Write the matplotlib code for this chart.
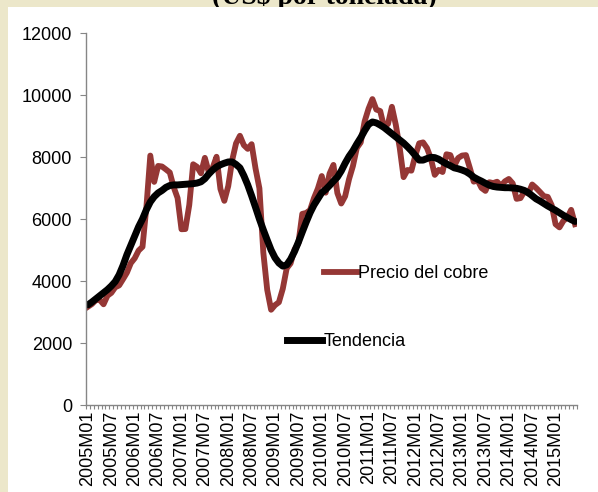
import matplotlib
matplotlib.use("Agg")
import matplotlib.pyplot as plt
from matplotlib.lines import Line2D
from matplotlib.patches import Rectangle

plt.rcParams['font.family'] = ['Liberation Sans', 'DejaVu Sans']

# monthly labels 2005M01 .. 2015M06
months = ['%dM%02d' % (y, m) for y in range(2005, 2016) for m in range(1, 13)][:126]

# copper price (US$ per ton)
precio = [3170, 3254, 3379, 3394, 3249, 3525, 3617, 3797, 3857, 4059, 4269, 4576,
          4734, 4982, 5103, 6387, 8046, 7197, 7712, 7694, 7600, 7500, 7029, 6676,
          5669, 5676, 6452, 7766, 7683, 7475, 7973, 7510, 7652, 8008, 6967, 6586,
          7061, 7888, 8439, 8685, 8383, 8262, 8414, 7633, 6990, 4924, 3717, 3072,
          3221, 3315, 3750, 4407, 4569, 5014, 5216, 6165, 6196, 6288, 6676, 6982,
          7386, 6848, 7463, 7745, 6838, 6499, 6735, 7284, 7709, 8292, 8470, 9147,
          9556, 9868, 9530, 9483, 8960, 9067, 9620, 9040, 8300, 7350, 7581, 7559,
          8041, 8441, 8471, 8289, 7955, 7423, 7584, 7516, 8088, 8062, 7711, 7967,
          8047, 8061, 7646, 7204, 7248, 7000, 6907, 7186, 7159, 7203, 7071, 7215,
          7291, 7149, 6650, 6674, 6891, 6821, 7113, 7002, 6872, 6737, 6713, 6446,
          5831, 5729, 5940, 6042, 6295, 5833]

# trend
tendencia = [3230, 3320, 3420, 3520, 3620, 3720, 3840, 3980, 4200, 4500, 4850, 5150,
             5450, 5750, 6000, 6300, 6550, 6720, 6840, 6920, 7020, 7080, 7100, 7100,
             7110, 7120, 7130, 7140, 7160, 7200, 7300, 7450, 7580, 7680, 7750, 7800,
             7840, 7840, 7760, 7650, 7400, 7100, 6750, 6380, 6000, 5650, 5320, 5000,
             4750, 4580, 4480, 4520, 4700, 4950, 5250, 5580, 5900, 6200, 6450, 6650,
             6850, 6950, 7080, 7220, 7350, 7550, 7800, 8020, 8200, 8420, 8620, 8850,
             9050, 9130, 9100, 9030, 8950, 8850, 8750, 8650, 8550, 8450, 8330, 8200,
             8050, 7900, 7900, 7950, 7990, 7980, 7930, 7850, 7780, 7720, 7650, 7620,
             7580, 7530, 7450, 7350, 7280, 7220, 7150, 7090, 7050, 7030, 7020, 7010,
             7010, 7000, 6990, 6960, 6920, 6850, 6750, 6650, 6580, 6500, 6420, 6350,
             6280, 6200, 6120, 6050, 5980, 5920]

W, H = 598, 492
fig = plt.figure(figsize=(W / 100, H / 100), dpi=100)
fig.patch.set_facecolor('#ECE7CA')
fig.patches.append(Rectangle((8 / W, 0), 1, 1 - 7 / H, transform=fig.transFigure,
                             facecolor='white', edgecolor='none', zorder=1))
fig.text(324 / W, 1 - 4 / H, '(US$ por tonelada)', ha='center', va='baseline',
         fontsize=20, fontweight='bold', family='Liberation Serif', zorder=0)

ax = fig.add_axes([86 / W, 1 - 405 / H, (577 - 86) / W, (405 - 33) / H])
ax.set_zorder(2)
ax.set_facecolor('none')
x = list(range(len(months)))
ax.plot(x, precio, color='#953735', linewidth=4.2, solid_joinstyle='round')
ax.plot(x, tendencia, color='black', linewidth=5, solid_capstyle='round')

ax.set_xlim(-0.5, len(months) - 0.5)
ax.set_ylim(0, 12000)
ax.set_yticks(range(0, 12001, 2000))
ax.set_xticks(x[::6])
ax.set_xticklabels(months[::6], rotation=90)
ax.set_xticks([i - 0.5 for i in range(len(months) + 1)], minor=True)

for s in ['top', 'right']:
    ax.spines[s].set_visible(False)
for s in ['left', 'bottom']:
    ax.spines[s].set_color('#868686')
    ax.spines[s].set_linewidth(1)
ax.tick_params(axis='y', length=4, color='#868686', labelsize=13, pad=6)
ax.tick_params(axis='x', which='major', length=0, labelsize=13, pad=4)
ax.tick_params(axis='x', which='minor', length=3, color='#868686', width=0.8)

leg1 = ax.legend([Line2D([], [], color='#953735', linewidth=4.2)], ['Precio del cobre'],
                 loc='center left', bbox_to_anchor=(324 / W, 1 - 274 / H),
                 bbox_transform=fig.transFigure, frameon=False, fontsize=13,
                 borderpad=0, borderaxespad=0, handlelength=1.8, handletextpad=0.1)
ax.add_artist(leg1)
ax.legend([Line2D([], [], color='black', linewidth=5)], ['Tendencia'],
          loc='center left', bbox_to_anchor=(287 / W, 1 - 342 / H),
          bbox_transform=fig.transFigure, frameon=False, fontsize=13,
          borderpad=0, borderaxespad=0, handlelength=1.95, handletextpad=0.1)

fig.savefig('out.png', dpi=100, facecolor=fig.get_facecolor())
